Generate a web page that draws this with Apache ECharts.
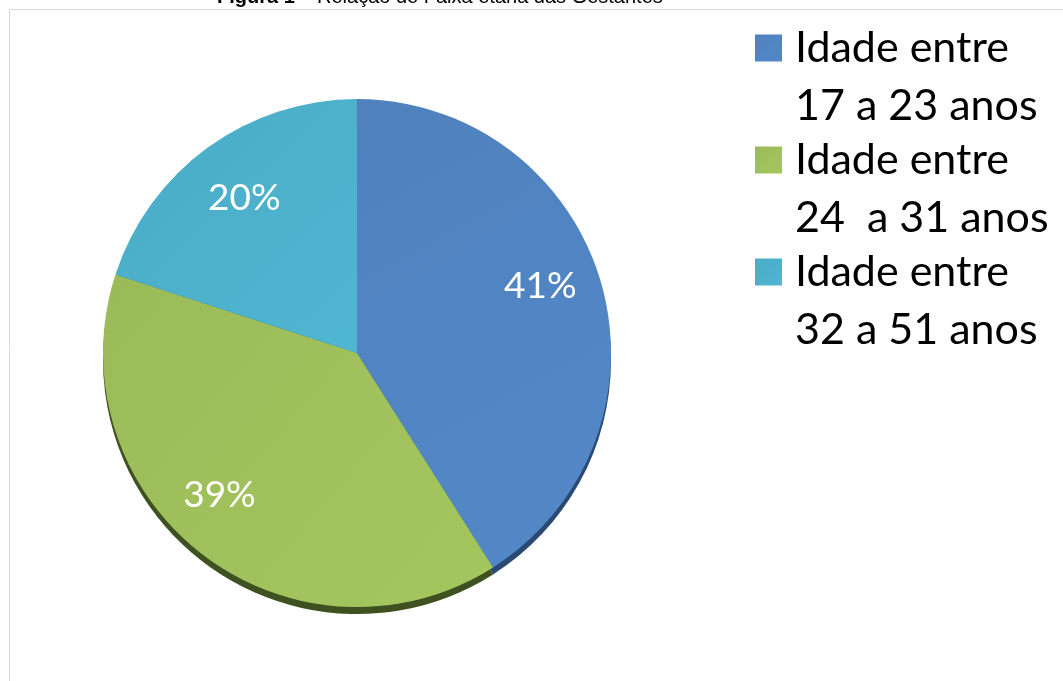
<!DOCTYPE html>
<html>
<head>
<meta charset="utf-8">
<script src="https://cdn.jsdelivr.net/npm/echarts@6/dist/echarts.min.js"></script>
<style>
  html, body { margin: 0; padding: 0; background: #fff; }
  #chart { width: 1063px; height: 681px; }
</style>
</head>
<body>
<div id="chart"></div>
<script>
  const categories = ["Idade entre\n17 a 23 anos", "Idade entre\n24  a 31 anos", "Idade entre\n32 a 51 anos"];
  const shares = [41, 39, 20];
  const faceColors = ["#4f81bd", "#9bbb59", "#4bacc6"];
  const edgeColors = ["#2a4a73", "#3f5120", "#2a6e80"];
  const labelOffsets = [[-4, -13], [-18, -12], [2, 3]];

  const chart = echarts.init(document.getElementById("chart"));
  const center = [357, 353];
  const radius = 254;

  function shade(color) {
    return new echarts.graphic.LinearGradient(0, 0, 1, 1, [
      { offset: 0, color: echarts.color.lift(color, 0.0) },
      { offset: 1, color: echarts.color.lift(color, -0.06) }
    ]);
  }

  chart.setOption({
    animation: false,
    graphic: [
      {
        type: "rect",
        z: -10,
        shape: { x: 9.5, y: 9.5, width: 1100, height: 700 },
        style: { fill: "#fff", stroke: "#d9d9d9", lineWidth: 1 }
      }
    ],
    title: {
      left: 217,
      top: -13,
      padding: 0,
      text: "{b|Figura 1} – Relação de Faixa etária das Gestantes",
      textStyle: {
        fontFamily: "Liberation Sans",
        fontSize: 20,
        fontWeight: "normal",
        color: "#000",
        rich: {
          b: { fontFamily: "Liberation Sans", fontSize: 20, fontWeight: "bold", color: "#000" }
        }
      }
    },
    legend: {
      orient: "vertical",
      left: 755,
      top: -39,
      padding: 0,
      itemGap: -62,
      itemWidth: 27,
      itemHeight: 27,
      icon: "rect",
      selectedMode: false,
      data: categories,
      // blank first line keeps the first text line level with the swatch
      formatter: (name) => "\n" + name,
      textStyle: {
        fontFamily: "Lato",
        fontSize: 43,
        lineHeight: 58,
        color: "#000",
        padding: [0, 0, 0, 8]
      }
    },
    series: [
      {
        type: "pie",
        silent: true,
        center: [center[0], center[1] + 7],
        radius: radius,
        startAngle: 90,
        clockwise: true,
        label: { show: false },
        labelLine: { show: false },
        z: 1,
        data: shares.map((v, i) => ({
          value: v,
          name: "edge" + i,
          itemStyle: { color: edgeColors[i] }
        }))
      },
      {
        type: "pie",
        center: center,
        radius: radius,
        startAngle: 90,
        clockwise: true,
        z: 2,
        label: { show: false },
        labelLine: { show: false },
        itemStyle: { borderWidth: 0 },
        data: shares.map((v, i) => ({
          value: v,
          name: categories[i],
          itemStyle: { color: shade(faceColors[i]) }
        }))
      },
      {
        type: "pie",
        silent: true,
        center: center,
        radius: [130, radius],
        startAngle: 90,
        clockwise: true,
        z: 3,
        labelLine: { show: false },
        itemStyle: { color: "rgba(0,0,0,0)" },
        label: {
          show: true,
          position: "inside",
          fontFamily: "Lato",
          fontSize: 37,
          color: "#fff",
          formatter: "{c}%"
        },
        data: shares.map((v, i) => ({
          value: v,
          name: "lbl" + i,
          label: { offset: labelOffsets[i] }
        }))
      }
    ]
  });
</script>
</body>
</html>
